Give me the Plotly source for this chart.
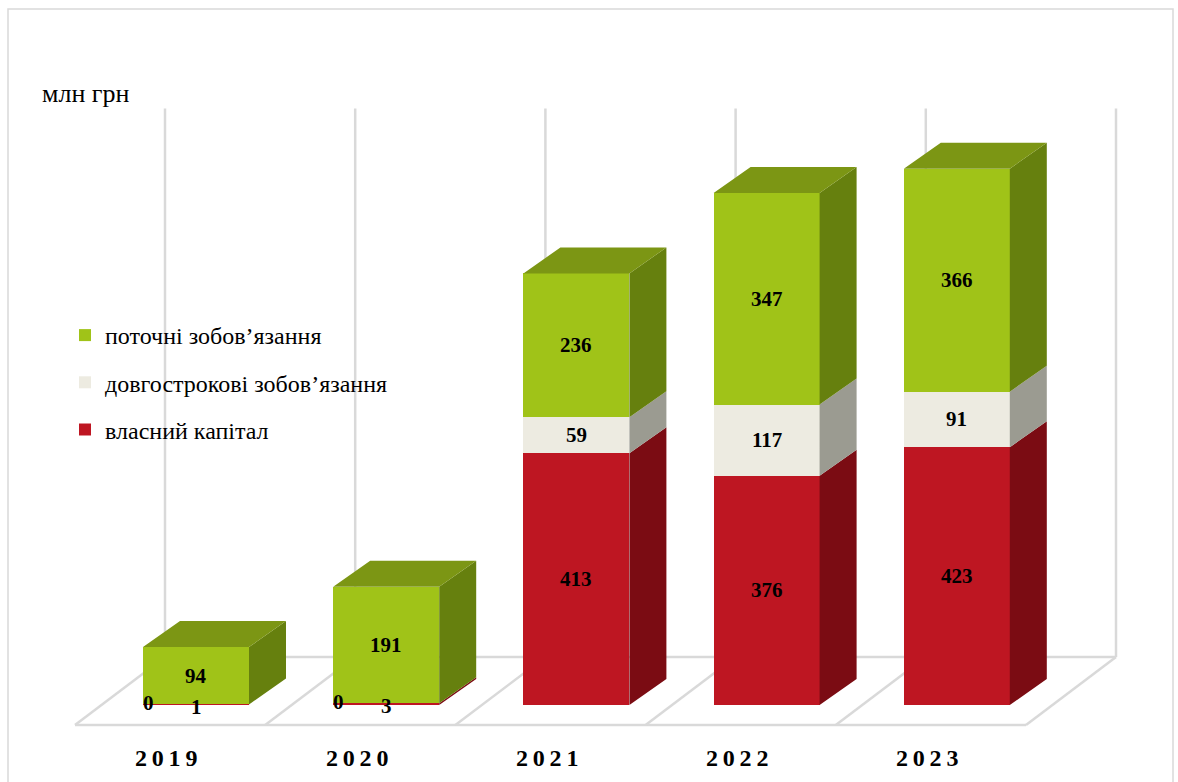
import plotly.graph_objects as go

# ---- data ----
years = ['2019', '2020', '2021', '2022', '2023']
equity = [1, 3, 413, 376, 423]          # власний капітал
long_term = [0, 0, 59, 117, 91]         # довгострокові зобов’язання
current = [94, 191, 236, 347, 366]      # поточні зобов’язання
series_names = ['власний капітал', 'довгострокові зобов’язання', 'поточні зобов’язання']
unit_label = 'млн грн'
axis_max = 900

series_values = [equity, long_term, current]
front_colors = ['#BE1622', '#EDEBE1', '#A0C318']
side_colors = ['#7B0C13', '#9B9B91', '#66800E']
top_color = '#7C9614'
grid_color = '#D9D9D9'
FONT = 'Liberation Serif, Times New Roman, serif'

# ---- geometry (style) ----
W, H = 1178, 782
PXC = 190.2      # px per category
PXV = 0.6095     # px per value unit
X0 = -196 / PXC
Y0 = -77 / PXV
BW = 106 / PXC
DX = 37 / PXC
DY = 26 / PXV
FX0 = -121 / PXC
FY = -20 / PXV
FDX = 90 / PXC
FDY = 68 / PXV

n = len(years)
xs = list(range(n))

fig = go.Figure()

# front faces (real stacked bars)
for s in range(3):
    fig.add_trace(go.Bar(
        x=xs, y=series_values[s], width=BW, name=series_names[s],
        marker=dict(color=front_colors[s], line=dict(width=0)),
        legendgroup=str(s), legendrank=3 - s, hoverinfo='skip'))

# side & top faces computed from stacked values
bottoms = [0] * n
seg_bounds = []
for s in range(3):
    b = bottoms[:]
    t = [b[i] + series_values[s][i] for i in range(n)]
    seg_bounds.append((b, t))
    bottoms = t

for s in range(3):
    b, t = seg_bounds[s]
    px_, py_ = [], []
    for i in range(n):
        if t[i] - b[i] <= 0:
            continue
        xr = xs[i] + BW / 2
        px_ += [xr, xr + DX, xr + DX, xr, xr, None]
        py_ += [b[i], b[i] + DY, t[i] + DY, t[i], b[i], None]
    fig.add_trace(go.Scatter(x=px_, y=py_, mode='lines', fill='toself',
                             fillcolor=side_colors[s], line=dict(width=0),
                             showlegend=False, hoverinfo='skip'))

tops = seg_bounds[-1][1]
px_, py_ = [], []
for i in range(n):
    xl = xs[i] - BW / 2
    xr = xs[i] + BW / 2
    T = tops[i]
    px_ += [xl, xl + DX, xr + DX, xr, xl, None]
    py_ += [T, T + DY, T + DY, T, T, None]
fig.add_trace(go.Scatter(x=px_, y=py_, mode='lines', fill='toself',
                         fillcolor=top_color, line=dict(width=0),
                         showlegend=False, hoverinfo='skip'))

# floor and wall lines
shapes = []
lw = 2.5
def line(x0, y0, x1, y1):
    shapes.append(dict(type='line', xref='x', yref='y', x0=x0, y0=y0, x1=x1, y1=y1,
                       line=dict(color=grid_color, width=lw), layer='below'))
line(FX0, FY, FX0 + n, FY)
line(FX0 + FDX, FY + FDY, FX0 + n + FDX, FY + FDY)
for k in range(n + 1):
    line(FX0 + k, FY, FX0 + k + FDX, FY + FDY)
    line(FX0 + k + FDX, FY + FDY, FX0 + k + FDX, FY + FDY + axis_max)
# outer frame
shapes.append(dict(type='rect', xref='paper', yref='paper',
                   x0=8 / W, x1=1173 / W, y0=-0.01, y1=1 - 9 / H,
                   line=dict(color=grid_color, width=1.5), layer='below'))

# annotations: data labels
annotations = []
for s in range(3):
    b, t = seg_bounds[s]
    for i in range(n):
        v = series_values[s][i]
        mid = (b[i] + t[i]) / 2
        if s == 1 and v == 0:
            annotations.append(dict(x=xs[i] - BW / 2, y=mid, xref='x', yref='y',
                                    text=f'<b>{v}</b>', showarrow=False, xanchor='left',
                                    yanchor='middle', yshift=1, xshift=-2,
                                    font=dict(family=FONT, size=21, color='black')))
        else:
            annotations.append(dict(x=xs[i], y=mid, xref='x', yref='y',
                                    text=f'<b>{v}</b>', showarrow=False,
                                    yanchor='middle', yshift=-2 if v < 10 else 0,
                                    font=dict(family=FONT, size=21, color='black')))
# category labels
for i in range(n):
    annotations.append(dict(x=FX0 + i + 0.48, y=(705 - 758) / PXV, xref='x', yref='y',
                            text='<b>' + '\u2009'.join(years[i]) + '</b>', showarrow=False,
                            font=dict(family=FONT, size=24, color='black')))
# unit label
annotations.append(dict(x=40 / W, y=1 - 93 / H, xref='paper', yref='paper',
                        text=unit_label, showarrow=False, xanchor='left', yanchor='middle',
                        font=dict(family=FONT, size=26, color='black')))

fig.update_layout(
    width=W, height=H,
    margin=dict(l=0, r=0, t=0, b=0),
    paper_bgcolor='white', plot_bgcolor='white',
    barmode='stack', bargap=0,
    xaxis=dict(range=[X0, X0 + W / PXC], visible=False, fixedrange=True),
    yaxis=dict(range=[Y0, Y0 + H / PXV], visible=False, fixedrange=True),
    shapes=shapes, annotations=annotations,
    showlegend=True,
    legend=dict(x=65 / W, y=1 - 313 / H, xanchor='left', yanchor='top',
                traceorder='grouped', tracegroupgap=13,
                bgcolor='rgba(0,0,0,0)',
                font=dict(family=FONT, size=24, color='black')),
    font=dict(family=FONT),
)

fig.write_html('out.html')
